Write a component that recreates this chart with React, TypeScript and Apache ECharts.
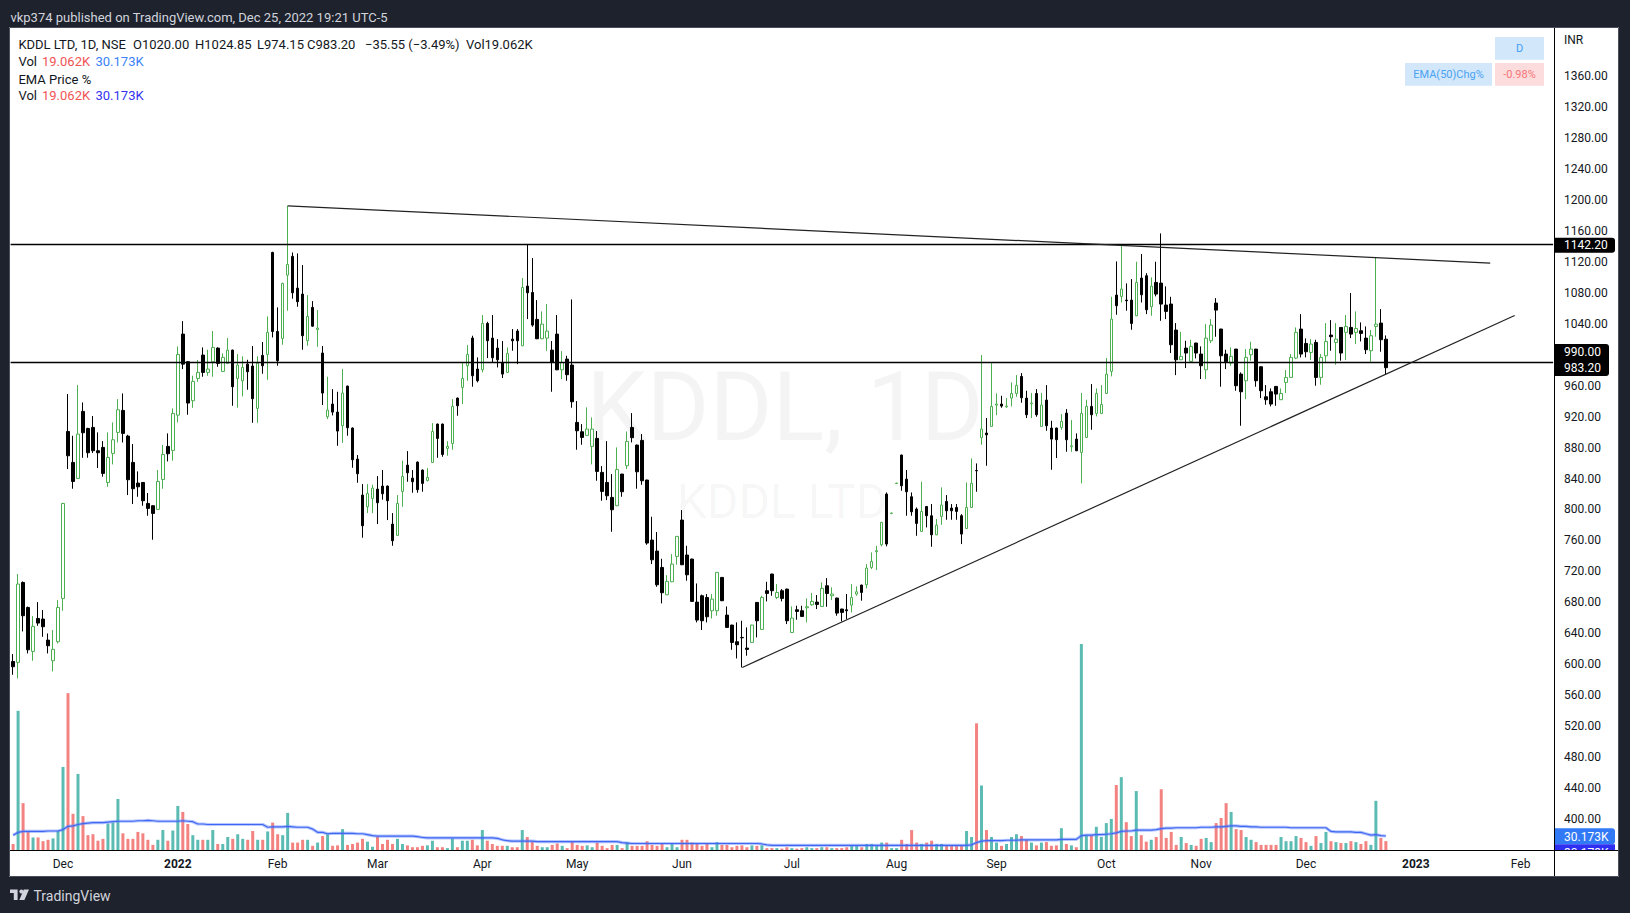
import React, { useEffect, useRef } from "react";
import * as echarts from "echarts";

// ---------- categories (NSE trading days) ----------
const firstDay = [2021, 10, 16]; // 16 Nov 2021 (month is 0-based)
const categoryCount = 309;
const holidays = [
  "2021-11-19", "2022-01-26", "2022-03-01", "2022-03-18", "2022-04-14", "2022-04-15",
  "2022-05-03", "2022-08-09", "2022-08-15", "2022-08-31", "2022-10-05", "2022-10-26",
  "2022-11-08", "2023-01-26",
];
const monthNames = ["Jan", "Feb", "Mar", "Apr", "May", "Jun", "Jul", "Aug", "Sep", "Oct", "Nov", "Dec"];
const priceTicks = { min: 360, max: 1423.4, step: 40, firstShown: 400, lastShown: 1360 };
// tick labels hidden by TradingView behind the last-price labels
const hiddenTicks = [1000];

// ---------- candles: [open, close, low, high] ----------
const nov21 = [
  [603.6, 596.8, 586.4, 613.1], [602.4, 703.6, 581.7, 716.5], [705.7, 662.7, 642.4, 707], [673.4, 618.7, 614.0, 674.5],
  [616.6, 648.9, 604.5, 662.2], [659.2, 653.2, 649.7, 680.3], [658.4, 648.5, 635.5, 670], [631.2, 623.9, 614.0, 639.8],
  [604.5, 619.2, 590.7, 644.2], [629.1, 673.4, 626.9, 682.9],
];
const dec21 = [
  [685.1, 807.8, 669.1, 808.5], [900.8, 869.4, 852.2, 949.1], [860.8, 836.2, 826.8, 895.2], [840.1, 897.4, 839.5, 960.7],
  [926.7, 899.1, 866.8, 938.3], [904.7, 873.3, 866.8, 905.5], [906, 875.9, 872.9, 920.7], [875.9, 873.3, 853.5, 899.6],
  [880.2, 846.6, 842.3, 888.3], [834.9, 867.2, 829.3, 899.6], [872.4, 890.1, 858.2, 912.5], [899.6, 928.8, 886.6, 942.6],
  [928.0, 898.3, 886.6, 949.9], [894.8, 838.4, 818.6, 896.5], [860.8, 826.8, 807.0, 884.5], [834.1, 829.3, 816.4, 849.2],
  [834.9, 811.3, 804.8, 835.5], [807.8, 801.4, 791.9, 821.2], [804.8, 794.9, 760.9, 805.5], [800.1, 836.2, 799.5, 850.9],
  [838.8, 871.1, 826.8, 883.2], [881.5, 872.0, 862.1, 898.3], [876.3, 924.1, 863.0, 930.6],
];
const jan22 = [
  [921.9, 1000.3, 912.5, 1010.7], [1026.6, 987.8, 981.4, 1043.4], [990.9, 937.5, 922.4, 991.5], [940.5, 965.5, 931.4, 972.8],
  [969.3, 977.1, 965.0, 993.0], [999.5, 977.1, 971.5, 1009.4], [977.1, 981.4, 972.8, 1006.4], [990.9, 1009.4, 971.5, 1030.5],
  [1008.5, 988.7, 984.4, 1009.5], [978.4, 996.5, 977.8, 1001.6], [988.7, 1005.9, 988.2, 1021.4], [1005.9, 958.6, 934.0, 1006.5],
  [969.3, 986.6, 931.4, 1000.8], [966.3, 983.5, 946.1, 997.8], [987.8, 977.9, 954.7, 993.4], [985.3, 943.1, 912.0, 1011.1],
  [930.6, 989.1, 912.0, 997.8], [999.1, 985.7, 975.4, 1016.3], [1000.3, 1028.8, 967.6, 1049.4], [1132.1, 1030.0, 1022.3, 1133.0],
];
const feb22 = [
  [1030.0, 992.2, 985.7, 1061.1], [1021.0, 1092.1, 1012.8, 1093.0], [1102.8, 1116.6, 1056.8, 1192.4], [1127.0, 1080.0, 1072.3, 1132.1],
  [1086.0, 1068.4, 1061.9, 1130.8], [1078.3, 1024.5, 1006.4, 1115.8], [1018.0, 1049.4, 1011.5, 1077.0], [1061.1, 1036.9, 1036.1, 1069.2],
  [1032.6, 1034.4, 1010.2, 1057.6], [1002.1, 950.4, 934.9, 1011.1], [919.8, 928.4, 916.8, 971.5], [936.2, 925.8, 921.5, 955.5],
  [925.8, 901.3, 882.3, 952.1], [908.2, 950.4, 886.2, 981.4], [959.4, 905.6, 895.3, 960.0], [905.2, 864.2, 853.9, 906.0],
  [865.1, 846.1, 834.5, 870.3], [818.6, 779.0, 763.5, 832.8], [803.5, 820.7, 795.3, 832.8], [814.3, 827.6, 795.3, 831.9],
];
const mar22 = [
  [826.3, 808.7, 781.1, 843.1], [830.2, 820.3, 812.6, 850.9], [830.2, 811.3, 786.3, 831.0], [781.1, 759.6, 753.1, 795.3],
  [766.5, 807.8, 766.0, 818.6], [823.3, 842.7, 803.5, 863.0], [857.3, 847.4, 835.8, 875.4], [840.5, 835.8, 821.6, 850.9],
  [861.2, 825.5, 821.6, 862.0], [850.9, 833.7, 822.9, 851.5], [837.5, 841.4, 836.2, 853.5], [860.8, 900.8, 860.3, 911.6],
  [910.3, 891.8, 866.8, 911.0], [910.3, 871.1, 868.1, 911.0], [878.9, 881.5, 869.4, 888.3], [885.3, 933.2, 877.2, 942.6],
  [943.9, 934.0, 921.1, 944.5], [957.7, 969.3, 936.2, 990.0], [985.7, 1000.3, 966.3, 1012.4], [1021.4, 972.8, 958.6, 1024.5],
  [981.4, 966.3, 964.2, 996.5],
];
const apr22 = [
  [980.5, 1040.4, 977.1, 1051.2], [1040.4, 1018.0, 995.6, 1042.5], [1021.4, 996.0, 990.0, 1051.2], [1008.5, 993.4, 983.5, 1020.1],
  [990.0, 974.9, 969.8, 1017.6], [977.1, 1001.6, 976.6, 1009.4], [1020.1, 1018.0, 1005.1, 1033.1], [1030.5, 1018.0, 987.8, 1033.1],
  [1011.5, 1086.9, 1011.0, 1099.0], [1088.6, 1080.0, 1046.0, 1142.0], [1080.4, 1038.2, 1036.1, 1124.8], [1045.6, 1020.6, 1020.1, 1070.5],
  [1020.6, 1039.5, 1020.1, 1055.9], [1021.4, 1030.5, 1005.1, 1065.4], [1005.9, 990.0, 952.1, 1017.6], [1026.6, 980.5, 980.0, 1051.2],
  [980.5, 990.0, 968.5, 1004.6], [994.3, 974.1, 966.3, 998.6], [986.6, 939.2, 931.4, 1071.4],
];
const may22 = [
  [912.5, 901.7, 877.2, 940.0], [900.4, 893.1, 883.6, 910.3], [895.7, 903.9, 895.2, 931.9], [881.5, 903.9, 858.2, 918.9],
  [891.8, 849.2, 837.1, 901.3], [847.9, 823.3, 811.3, 856.0], [834.9, 817.7, 812.1, 888.3], [815.6, 799.6, 771.2, 845.7],
  [804.8, 851.7, 804.3, 880.2], [845.7, 822.9, 816.4, 846.0], [856.5, 887.9, 852.2, 900.8], [906.0, 892.7, 886.6, 924.5],
  [883.2, 848.7, 826.8, 884.0], [889.2, 837.1, 831.9, 897.4], [838.0, 756.6, 754.4, 838.5], [760.4, 735.0, 729.4, 790.6],
  [746.2, 702.7, 700.1, 770.8], [725.1, 692.4, 678.6, 736.3], [689.8, 707.0, 689.3, 715.2], [706.6, 729.4, 706.1, 742.3],
  [739.3, 765.2, 728.6, 765.5],
];
const jun22 = [
  [786.3, 728.6, 728.1, 799.2], [741.1, 715.6, 707.9, 753.1], [735.9, 681.2, 680.7, 736.4], [680.3, 657.1, 654.1, 704.4],
  [688.5, 656.2, 644.2, 690.0], [686.3, 661.4, 654.1, 690.7], [669.1, 684.2, 659.2, 690.7], [669.1, 718.7, 662.7, 719.2],
  [712.2, 682.1, 681.6, 712.7], [663.5, 647.6, 647.1, 674.7], [650.6, 628.2, 618.7, 651.1], [629.1, 625.2, 607.5, 654.1],
  [634.7, 634.2, 595.9, 656.2], [620.9, 619.2, 611.0, 647.6], [628.2, 650.6, 627.7, 651.1], [679.9, 656.2, 634.7, 680.4],
  [645.0, 686.3, 644.5, 688.5], [695.0, 691.5, 681.2, 706.6], [716.5, 695.0, 688.5, 717.0], [686.3, 692.8, 684.2, 703.6],
  [695.0, 685.1, 681.2, 697.1], [697.1, 656.2, 651.9, 697.6],
];
const jul22 = [
  [641.1, 659.7, 640.6, 674.7], [670.4, 668.3, 657.5, 675.6], [669.1, 661.8, 661.3, 675.6], [673.0, 674.3, 654.1, 685.1],
  [676.9, 681.2, 675.6, 692.0], [680.3, 677.3, 671.3, 689.4], [674.7, 698.0, 674.2, 705.7], [701.4, 691.5, 674.3, 711.3],
  [688.5, 690.7, 682.9, 699.3], [685.5, 666.1, 662.7, 686.0], [671.3, 667.0, 655.4, 671.8], [670.4, 669.1, 658.4, 690.7],
  [676.4, 686.3, 667.0, 703.6], [690.7, 693.7, 688.5, 700.6], [702.3, 692.8, 682.1, 702.8], [702.7, 724.3, 698.0, 729.4],
  [725.1, 732.9, 723.0, 744.5], [745.4, 746.7, 721.7, 753.1], [754.4, 783.3, 752.3, 784.0], [819.9, 755.3, 752.3, 822.0],
  [794.9, 795.3, 794.0, 796.0],
];
const aug22 = [
  [833.5, 834.0, 833.0, 834.5], [870.3, 830.6, 824.2, 870.8], [839.2, 822.9, 791.9, 850.9], [816.4, 797.0, 791.9, 822.0],
  [800.5, 782.0, 766.0, 802.6], [771.6, 797.5, 771.1, 835.8], [803.9, 791.9, 776.8, 804.4], [791.9, 767.3, 751.8, 807.0],
  [767.3, 779.8, 766.8, 787.6], [791.0, 805.7, 780.2, 828.5], [810.4, 798.3, 786.7, 818.6], [801.8, 798.3, 786.7, 807.0],
  [802.6, 797.5, 786.7, 807.0], [791.9, 768.2, 755.3, 794.0], [775.5, 802.6, 775.0, 835.0], [802.6, 833.7, 802.1, 866.0],
  [850.4, 850.0, 822.9, 859.5], [892.7, 903.9, 883.6, 999.5], [898.7, 896.5, 856.5, 918.1], [907.3, 933.2, 906.8, 989.1],
];
const sep22 = [
  [934.9, 936.2, 921.9, 949.9], [936.2, 933.6, 931.4, 946.9], [932.7, 933.6, 931.4, 943.9], [943.9, 949.9, 933.2, 964.2],
  [949.9, 960.3, 945.6, 973.6], [971.9, 944.3, 937.9, 976.2], [943.9, 922.4, 918.1, 953.4], [936.6, 937.5, 918.1, 950.4],
  [949.9, 922.4, 919.8, 955.5], [907.3, 934.9, 906.8, 950.4], [941.3, 908.2, 901.7, 960.7], [905.2, 890.9, 851.3, 914.6],
  [905.2, 890.1, 866.4, 905.7], [906.0, 913.8, 903.0, 923.2], [924.5, 890.1, 874.6, 929.7], [881.0, 882.3, 874.6, 915.5],
  [890.9, 875.9, 875.4, 898.3], [873.7, 924.1, 833.7, 950.4], [893.1, 933.2, 892.6, 941.8], [933.2, 922.4, 903.0, 962.0],
  [924.1, 949.9, 920.2, 956.4], [924.1, 935.7, 923.6, 960.7],
];
const oct22 = [
  [949.9, 974.9, 949.4, 995.6], [978.4, 1046.0, 971.9, 1074.8], [1077.0, 1063.2, 1051.6, 1120.5], [1075.3, 1084.8, 1067.5, 1141.6],
  [1070.5, 1069.7, 1056.8, 1092.1], [1070.5, 1040.4, 1032.2, 1097.7], [1050.3, 1093.4, 1049.8, 1120.1], [1099.0, 1077.4, 1067.5, 1130.0],
  [1102.0, 1058.0, 1052.4, 1105.4], [1061.9, 1088.6, 1050.3, 1099.8], [1093.4, 1078.3, 1075.3, 1120.1], [1092.5, 1065.4, 1043.8, 1156.7],
  [1064.1, 1055.9, 1046.0, 1088.2], [1065.4, 1012.8, 1002.1, 1074.8], [1031.8, 993.4, 973.6, 1040.8], [993.4, 997.8, 993.0, 1029.6],
  [1008.5, 1002.1, 982.7, 1018.0], [991.3, 1010.7, 990.8, 1019.3], [1015.0, 1002.1, 995.2, 1015.5],
];
const nov22 = [
  [1000.8, 985.7, 968.5, 1010.7], [980.5, 1021.4, 968.5, 1039.5], [1018.0, 1038.2, 1015.0, 1046.0], [1066.7, 1057.6, 1023.2, 1073.1],
  [1033.1, 998.6, 958.6, 1033.5], [1000.8, 990.9, 981.4, 1006.4], [989.1, 997.8, 985.7, 1009.4], [1007.2, 959.9, 953.4, 1007.5],
  [974.9, 952.1, 908.2, 977.1], [966.3, 996.5, 942.6, 1007.2], [999.9, 1007.2, 992.2, 1016.7], [1007.2, 966.3, 958.6, 1007.5],
  [984.4, 953.4, 943.9, 984.8], [945.6, 941.8, 935.3, 960.7], [952.1, 936.2, 933.2, 956.4], [959.0, 949.1, 934.0, 959.5],
  [941.8, 949.9, 941.5, 956.4], [964.2, 970.6, 950.4, 980.1], [970.6, 996.5, 970.1, 1000.8], [995.6, 1028.8, 994.3, 1035.2],
  [1033.1, 1000.8, 996.5, 1052.4],
];
const dec22 = [
  [1014.5, 1003.8, 996.5, 1021.0], [1002.9, 1013.7, 993.0, 1020.1], [1015.8, 970.6, 959.9, 1019.3], [970.6, 996.5, 961.1, 1000.8],
  [998.6, 1017.1, 990.0, 1040.8], [1025.3, 1023.2, 1005.1, 1044.7], [1015.8, 1020.1, 987.0, 1040.8], [1035.2, 1002.1, 992.2, 1035.5],
  [1028.8, 1036.5, 993.0, 1051.2], [1035.2, 1026.6, 1021.4, 1079.6], [1028.8, 1033.9, 1013.7, 1055.9], [1030.9, 1027.5, 1017.1, 1041.7],
  [1021.4, 1006.4, 1000.8, 1036.5], [1005.1, 1024.5, 990.9, 1031.8], [1036.5, 1039.5, 1023.2, 1125.7], [1040.8, 1019.3, 1003.8, 1058.9],
  [1020.0, 983.2, 974.15, 1024.85],
];

// ---------- volume (thousands) ----------
const volNov21 = [13, 300, 101, 40, 27, 27, 19, 22, 25, 41];
const volDec21 = [179, 338, 78, 164, 73, 32, 34, 20, 24, 57, 59, 110, 36, 24, 24, 39, 36, 22, 11, 22, 43, 20, 42];
const volJan22 = [95, 82, 56, 32, 22, 22, 22, 43, 13, 13, 28, 24, 34, 24, 22, 41, 22, 22, 40, 59];
const volFeb22 = [34, 32, 80, 16, 16, 22, 22, 9, 16, 30, 34, 9, 10, 45, 11, 13, 16, 24, 18, 7];
const volMar22 = [29, 13, 22, 13, 24, 13, 10, 6, 6, 9, 10, 20, 6, 6, 4, 25, 6, 20, 20, 22, 10];
const volApr22 = [43, 20, 13, 9, 9, 9, 6, 6, 43, 28, 18, 9, 6, 6, 11, 14, 9, 4, 18];
const volMay22 = [11, 9, 10, 6, 16, 9, 4, 11, 11, 4, 17, 9, 9, 9, 19, 11, 9, 13, 6, 13, 6];
const volJun22 = [22, 22, 16, 13, 9, 13, 6, 17, 11, 11, 6, 9, 10, 6, 10, 9, 10, 4, 4, 4, 3, 6];
const volJul22 = [4, 3, 4, 6, 4, 4, 6, 6, 4, 4, 4, 6, 9, 9, 6, 13, 13, 10, 16, 16, 4];
const volAug22 = [4, 22, 13, 43, 16, 13, 16, 20, 13, 13, 9, 9, 10, 9, 41, 28, 273, 139, 43, 28];
const volSep22 = [16, 9, 13, 28, 34, 30, 22, 16, 10, 16, 17, 9, 10, 47, 13, 10, 6, 444, 32, 32, 50, 28];
const volOct22 = [58, 67, 140, 157, 60, 30, 127, 32, 18, 22, 28, 131, 26, 39, 11, 28, 15, 11, 9];
const volNov22 = [24, 26, 17, 58, 69, 101, 82, 45, 43, 28, 22, 17, 11, 11, 11, 11, 28, 19, 19, 30, 26];
const volDec22 = [17, 9, 30, 15, 39, 19, 17, 15, 15, 19, 17, 13, 19, 11, 106, 26, 19.062];

// ---------- volume moving average (thousands) ----------
const maNov21 = [32, 38, 40, 40, 40, 40, 40, 41, 41, 41];
const maDec21 = [44, 51, 52, 55, 57, 58, 59, 59, 59, 60, 61, 62, 62, 62, 62, 63, 63, 64, 63, 62, 62, 62, 62];
const maJan22 = [62, 63, 62, 61, 56, 56, 55, 55, 55, 55, 55, 55, 55, 55, 55, 55, 55, 55, 49, 50];
const maFeb22 = [50, 50, 51, 50, 49, 49, 49, 45, 38, 38, 35, 36, 36, 36, 36, 36, 35, 35, 33, 31];
const maMar22 = [30, 30, 30, 30, 30, 30, 30, 30, 29, 27, 26, 26, 26, 26, 26, 26, 26, 26, 26, 26, 26];
const maApr22 = [26, 26, 26, 25, 22, 20, 19, 19, 19, 19, 19, 18, 18, 18, 18, 18, 18, 18, 18];
const maMay22 = [18, 18, 18, 18, 18, 18, 18, 18, 18, 16, 15, 14, 14, 14, 14, 14, 14, 14, 14, 14, 14];
const maJun22 = [14, 14, 14, 14, 14, 14, 14, 14, 14, 14, 14, 14, 14, 14, 14, 14, 13, 11, 10, 10, 10, 10];
const maJul22 = [10, 10, 10, 10, 10, 10, 10, 10, 10, 10, 10, 10, 10, 10, 10, 10, 10, 10, 10, 10, 10];
const maAug22 = [10, 10, 10, 10, 10, 10, 10, 10, 10, 10, 10, 10, 10, 10, 10, 11, 16, 19, 20, 20];
const maSep22 = [20, 20, 21, 21, 21, 22, 22, 22, 22, 22, 22, 22, 22, 23, 23, 23, 23, 31, 32, 32, 33, 33];
const maOct22 = [34, 35, 37, 40, 41, 41, 43, 43, 43, 43, 44, 46, 47, 47, 48, 48, 48, 48, 48];
const maNov22 = [49, 49, 49, 50, 50, 51, 52, 52, 51, 51, 50, 50, 49, 49, 49, 49, 49, 49, 48, 48, 48];
const maDec22 = [48, 48, 48, 48, 48, 40, 39, 39, 39, 39, 38, 38, 35, 32, 33, 31, 30.173];

// ---------- drawn annotations (bar index, price) ----------
const levelLines = [1142.2, 990];
const trendUpper = [[55, 1192.4], [295.9, 1118.4]];
const trendLower = [[146.07, 595.9], [300.8, 1050.6]];

const FONT = 'Roboto, "Noto Sans", sans-serif';
const UP = "#4caf50";
const VOL_UP = "rgba(38,166,154,0.75)";
const VOL_DOWN = "rgba(239,83,80,0.72)";

let logoRegistered = false;
function registerLogo() {
  if (logoRegistered) return;
  logoRegistered = true;
  echarts.graphic.registerShape(
    "tvlogo",
    echarts.graphic.extendPath("M0 0H7.6V10.6H3.8V3.6H0Z M13.8 0H19L14.4 10.6H9.3Z", {}) as any
  );
}

function buildDates(): string[] {
  const out: string[] = [];
  const d = new Date(Date.UTC(firstDay[0], firstDay[1], firstDay[2]));
  while (out.length < categoryCount) {
    const wd = d.getUTCDay();
    const s = d.toISOString().slice(0, 10);
    if (wd !== 0 && wd !== 6 && holidays.indexOf(s) < 0) out.push(s);
    d.setUTCDate(d.getUTCDate() + 1);
  }
  return out;
}

function txt(text: string, x: number, y: number, fill: string, size = 13, extra: any = {}) {
  return {
    type: "text",
    x,
    y,
    z: 100,
    silent: true,
    style: { text, fill, fontSize: size, fontFamily: FONT, align: "left", verticalAlign: "middle", ...extra },
  };
}

export default function App() {
  const ref = useRef<HTMLDivElement>(null);

  useEffect(() => {
    if (!ref.current) return;
    registerLogo();
    const chart = echarts.init(ref.current, undefined, { renderer: "svg" });

    const dates = buildDates();
    const candles = [
      ...nov21, ...dec21, ...jan22, ...feb22, ...mar22, ...apr22, ...may22,
      ...jun22, ...jul22, ...aug22, ...sep22, ...oct22, ...nov22, ...dec22,
    ];
    const volumes = [
      ...volNov21, ...volDec21, ...volJan22, ...volFeb22, ...volMar22, ...volApr22, ...volMay22,
      ...volJun22, ...volJul22, ...volAug22, ...volSep22, ...volOct22, ...volNov22, ...volDec22,
    ];
    const volMa = [
      ...maNov21, ...maDec21, ...maJan22, ...maFeb22, ...maMar22, ...maApr22, ...maMay22,
      ...maJun22, ...maJul22, ...maAug22, ...maSep22, ...maOct22, ...maNov22, ...maDec22,
    ];
    const monthStart = new Set<number>();
    for (let i = 1; i < dates.length; i++) {
      if (dates[i].slice(5, 7) !== dates[i - 1].slice(5, 7)) monthStart.add(i);
    }
    const volData = volumes.map((v, i) => ({
      value: v,
      itemStyle: { color: candles[i][1] >= candles[i][0] ? VOL_UP : VOL_DOWN },
    }));

    const graphic: any[] = [
      // top banner
      txt("vkp374 published on TradingView.com, Dec 25, 2022 19:21 UTC-5", 10.4, 17.7, "#d1d4dc", 13),
      // legend line 1
      txt("KDDL LTD, 1D, NSE", 18.4, 44.3, "#131722"),
      txt("O1020.00", 133, 44.3, "#131722"),
      txt("H1024.85", 195, 44.3, "#131722"),
      txt("L974.15", 257, 44.3, "#131722"),
      txt("C983.20", 307, 44.3, "#131722"),
      txt("\u221235.55 (\u22123.49%)", 365, 44.3, "#131722"),
      txt("Vol19.062K", 466, 44.3, "#131722"),
      // legend line 2
      txt("Vol", 18.4, 61.7, "#131722"),
      txt("19.062K", 42, 61.7, "#f05454"),
      txt("30.173K", 95.5, 61.7, "#3b82f6"),
      // legend line 3
      txt("EMA Price %", 18.4, 79, "#131722"),
      // legend line 4
      txt("Vol", 18.4, 95.7, "#131722"),
      txt("19.062K", 42, 95.7, "#f05454"),
      txt("30.173K", 95.5, 95.7, "#3434f0"),
      // watermark
      {
        type: "text", x: 785, y: 407, z: 0, silent: true,
        style: { text: "KDDL, 1D", fill: "rgba(0,0,0,0.045)", fontSize: 96, fontFamily: FONT, align: "center", verticalAlign: "middle" },
      },
      {
        type: "text", x: 782, y: 501, z: 0, silent: true,
        style: { text: "KDDL LTD", fill: "rgba(0,0,0,0.045)", fontSize: 48, fontFamily: FONT, align: "center", verticalAlign: "middle" },
      },
      // table top right
      { type: "rect", z: 100, shape: { x: 1495, y: 37, width: 49, height: 22.7 }, style: { fill: "#d3e7fb" } },
      txt("D", 1519.5, 48.4, "#3d9df2", 11, { align: "center" }),
      { type: "rect", z: 100, shape: { x: 1405, y: 63, width: 87, height: 22.7 }, style: { fill: "#d3e7fb" } },
      txt("EMA(50)Chg%", 1448.5, 74.4, "#4aa3f0", 11, { align: "center" }),
      { type: "rect", z: 100, shape: { x: 1495, y: 63, width: 49, height: 22.7 }, style: { fill: "#fcdcdc" } },
      txt("-0.98%", 1519.5, 74.4, "#f7767a", 11, { align: "center" }),
      // currency
      txt("INR", 1564, 40, "#131722", 12),
      // price labels
      { type: "rect", z: 100, shape: { x: 1554, y: 237.7, width: 61, height: 15, r: [0, 3, 3, 0] }, style: { fill: "#000" } },
      txt("1142.20", 1564, 245.4, "#ffffff", 12),
      { type: "rect", z: 100, shape: { x: 1554, y: 344, width: 55, height: 16, r: [0, 3, 0, 0] }, style: { fill: "#000" } },
      txt("990.00", 1564, 352, "#ffffff", 12),
      { type: "rect", z: 100, shape: { x: 1554, y: 360, width: 55, height: 16, r: [0, 0, 3, 0] }, style: { fill: "#000" } },
      txt("983.20", 1564, 368, "#ffffff", 12),
      { type: "rect", z: 100, shape: { x: 1554, y: 828.3, width: 61, height: 16, r: [0, 3, 3, 0] }, style: { fill: "#3179f5" } },
      txt("30.173K", 1564, 836.5, "#ffffff", 12),
      { type: "rect", z: 100, shape: { x: 1554, y: 844.3, width: 61, height: 16 }, style: { fill: "#2f2ff2" } },
      txt("30.173K", 1564, 852.5, "#ffffff", 12),
      // cover the lower right (time-scale corner)
      { type: "rect", z: 101, shape: { x: 1554.5, y: 850.5, width: 64.5, height: 26.5 }, style: { fill: "#ffffff" } },
      // separators
      { type: "line", z: 102, shape: { x1: 1554.5, y1: 27, x2: 1554.5, y2: 877 }, style: { stroke: "#000", lineWidth: 1 } },
      { type: "line", z: 102, shape: { x1: 9, y1: 850.5, x2: 1619, y2: 850.5 }, style: { stroke: "#000", lineWidth: 1 } },
      // panel border
      { type: "rect", z: 102, shape: { x: 9.5, y: 27.5, width: 1609, height: 849 }, style: { fill: "none", stroke: "#4a4e5a", lineWidth: 1 } },
      // TradingView footer
      { type: "tvlogo", x: 10, y: 889.5, scaleX: 1, scaleY: 1, z: 100, style: { fill: "#d1d4dc" } },
      { type: "circle", z: 100, shape: { cx: 21.4, cy: 891.5, r: 2 }, style: { fill: "#d1d4dc" } },
      txt("TradingView", 33.5, 895.5, "#d1d4dc", 14),
    ];

    const option: any = {
      animation: false,
      backgroundColor: "transparent",
      textStyle: { fontFamily: FONT },
      grid: { left: 10.6, right: 76.9, top: 27, bottom: 63, outerBoundsMode: "none" },
      xAxis: [
        {
          type: "category",
          data: dates,
          boundaryGap: true,
          axisLine: { show: false },
          axisTick: { show: false },
          splitLine: { show: false },
          axisLabel: {
            interval: (index: number) => monthStart.has(index),
            margin: 8,
            fontSize: 12,
            color: "#131722",
            fontFamily: FONT,
            formatter: (value: string) => {
              const m = parseInt(value.slice(5, 7), 10) - 1;
              return m === 0 ? `{y|${value.slice(0, 4)}}` : monthNames[m];
            },
            rich: { y: { fontWeight: "bold", fontSize: 12, color: "#131722", fontFamily: FONT } },
          },
        },
        { type: "value", min: -0.5, max: categoryCount - 0.5, show: false },
      ],
      yAxis: [
        {
          type: "value",
          position: "right",
          min: priceTicks.min,
          max: priceTicks.max,
          interval: priceTicks.step,
          axisLine: { show: false },
          axisTick: { show: false },
          splitLine: { show: false },
          axisLabel: {
            margin: 11,
            fontSize: 12,
            color: "#131722",
            fontFamily: FONT,
            showMaxLabel: false,
            formatter: (v: number) =>
              v >= priceTicks.firstShown && v <= priceTicks.lastShown && hiddenTicks.indexOf(v) < 0 ? v.toFixed(2) : "",
          },
        },
        { type: "value", min: 0, max: 1773.7, show: false },
      ],
      series: [
        {
          type: "bar",
          name: "Volume",
          xAxisIndex: 0,
          yAxisIndex: 1,
          data: volData,
          barWidth: 3,
          z: 1,
        },
        {
          type: "line",
          name: "VolMAwide",
          xAxisIndex: 0,
          yAxisIndex: 1,
          data: volMa,
          symbol: "none",
          lineStyle: { color: "rgba(90,130,250,0.45)", width: 3.2 },
          z: 3,
        },
        {
          type: "line",
          name: "VolMA",
          xAxisIndex: 0,
          yAxisIndex: 1,
          data: volMa,
          symbol: "none",
          lineStyle: { color: "#4066f2", width: 1.2 },
          z: 3,
        },
        {
          type: "candlestick",
          name: "KDDL",
          xAxisIndex: 0,
          yAxisIndex: 0,
          data: candles,
          barWidth: 3,
          itemStyle: {
            color: "#ffffff",
            color0: "#000000",
            borderColor: UP,
            borderColor0: "#000000",
            borderWidth: 1,
          },
          markLine: {
            silent: true,
            symbol: ["none", "none"],
            label: { show: false },
            lineStyle: { color: "#000", width: 1.3, type: "solid" },
            data: levelLines.map((v) => ({ yAxis: v })),
          },
          z: 4,
        },
        {
          type: "line",
          name: "TrendUpper",
          xAxisIndex: 1,
          yAxisIndex: 0,
          data: trendUpper,
          symbol: "none",
          lineStyle: { color: "#222", width: 1.2 },
          z: 5,
        },
        {
          type: "line",
          name: "TrendLower",
          xAxisIndex: 1,
          yAxisIndex: 0,
          data: trendLower,
          symbol: "none",
          lineStyle: { color: "#222", width: 1.2 },
          z: 5,
        },
      ],
      graphic: { elements: graphic },
    };

    chart.setOption(option);
    return () => chart.dispose();
  }, []);

  return (
    <div style={{ position: "fixed", left: 0, top: 0, width: 1630, height: 913, background: "#1e222d" }}>
      <div style={{ position: "absolute", left: 9, top: 27, width: 1610, height: 850, background: "#ffffff" }} />
      <div ref={ref} style={{ position: "absolute", left: 0, top: 0, width: 1630, height: 913 }} />
    </div>
  );
}
